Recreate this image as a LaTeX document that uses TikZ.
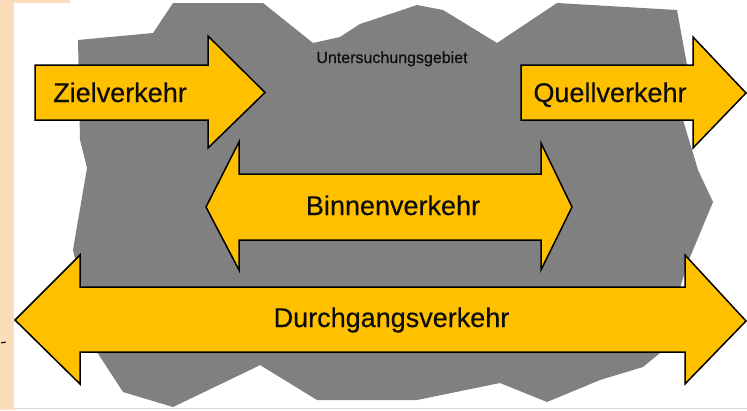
\documentclass[tikz,border=0pt]{standalone}
\usepackage{fontspec}
\setmainfont{Liberation Sans}
\usepackage{tikz}
\usetikzlibrary{positioning}

\definecolor{peach}{RGB}{252,221,186}
\definecolor{areagray}{RGB}{128,128,128}
\definecolor{trafficorange}{RGB}{255,192,0}

\begin{document}
\begin{tikzpicture}[x=1pt, y=-1pt]
        \tikzstyle{trafficarrow}=[draw=black, fill=trafficorange, line width=1.5pt, line join=miter];
        \tikzstyle{label}=[anchor=base, inner sep=0, text=black!95, font=\fontsize{27}{30}\selectfont\addfontfeature{FakeBold=0.4}];

        \useasboundingbox (0,0) rectangle (747,410);
        \fill [white] (0,0) rectangle (747,410);
        \fill [peach] (0,0) rectangle (14,410);
        \fill [peach] (0,0) rectangle (70,3);
        \draw [black!15, line width=0.8pt] (14,408.5) -- (747,408.5);
        \draw [black, line width=1pt] (1,343) -- (6,342);

        % study area
        \fill [areagray] (78,40) -- (153,33) -- (173,3) -- (263,3) -- (313,43) -- (340,37) -- (360,24)
            -- (417,5) -- (443,10) -- (497,43) -- (557,3) -- (677,10) -- (687,65) -- (683,120)
            -- (698,170) -- (713,202) -- (693,250) -- (688,262) -- (660,353) -- (643,367)
            -- (600,380) -- (547,402) -- (500,383) -- (417,400) -- (317,400) -- (260,365)
            -- (250,370) -- (173,407) -- (123,392) -- (97,352) -- (75,258) -- (73,250)
            -- (87,168) -- (80,140) -- cycle;
        \node [anchor=base, inner sep=0, text=black!95, font=\fontsize{16}{18}\selectfont\addfontfeature{FakeBold=0.3}] (Gebiet) at (392,63) {Untersuchungsgebiet};

        % arrows
        \draw [trafficarrow] (35,65) -- (208,65) -- (208,36) -- (265,92.5) -- (208,148) -- (208,120) -- (35,120) -- cycle;
        \draw [trafficarrow] (521,65) -- (693,65) -- (693,37) -- (746,93) -- (693,148) -- (693,120) -- (521,120) -- cycle;
        \draw [trafficarrow] (206,207) -- (239,142) -- (239,174) -- (541,174) -- (541,143) -- (572,207)
            -- (541,270) -- (541,240) -- (239,240) -- (239,270) -- cycle;
        \draw [trafficarrow] (15,320) -- (80,255) -- (80,287) -- (685,287) -- (685,255) -- (746,321)
            -- (685,384) -- (685,352) -- (80,352) -- (80,384) -- cycle;

        \node [label] (Ziel) at (120,102) {Zielverkehr};
        \node [label] (Quell) at (610,102) {Quellverkehr};
        \node [label] (Binnen) at (393,215) {Binnenverkehr};
        \node [label] (Durchgang) at (391.5,327) {Durchgangsverkehr};
    \end{tikzpicture}
\end{document}
